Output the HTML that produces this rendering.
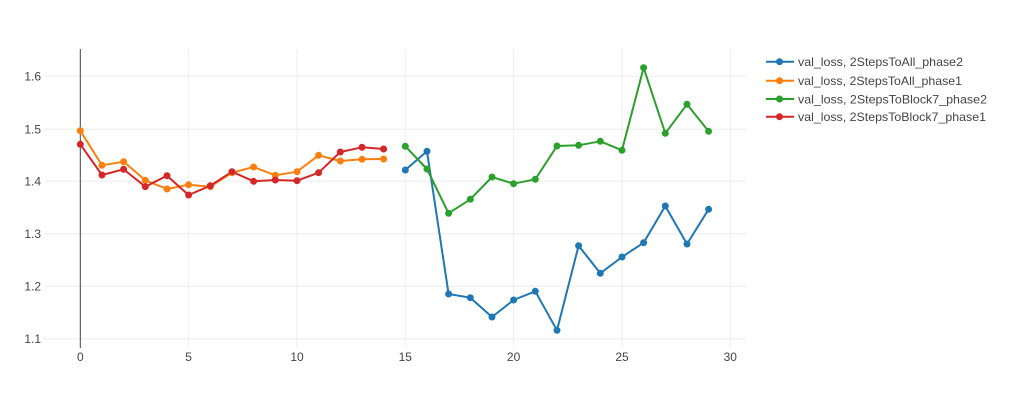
<!DOCTYPE html>
<html><head><meta charset="utf-8"><style>
html,body{margin:0;padding:0;background:#fff;}
svg{display:block;font-family:"Liberation Sans",Arial,sans-serif;}
</style></head><body>
<svg width="1024" height="409" viewBox="0 0 1024 409" xmlns="http://www.w3.org/2000/svg">
<rect width="1024" height="409" fill="#fff"/>
<g stroke="#eeeeee" stroke-width="1">
<line x1="44" x2="747" y1="76.3" y2="76.3"/>
<line x1="44" x2="747" y1="129.3" y2="129.3"/>
<line x1="44" x2="747" y1="181.3" y2="181.3"/>
<line x1="44" x2="747" y1="233.7" y2="233.7"/>
<line x1="44" x2="747" y1="286.3" y2="286.3"/>
<line x1="44" x2="747" y1="338.7" y2="338.7"/>
<line x1="188.6" x2="188.6" y1="49" y2="348"/>
<line x1="297" x2="297" y1="49" y2="348"/>
<line x1="405.3" x2="405.3" y1="49" y2="348"/>
<line x1="513.6" x2="513.6" y1="49" y2="348"/>
<line x1="622" x2="622" y1="49" y2="348"/>
<line x1="730.3" x2="730.3" y1="49" y2="348"/>
</g>
<line x1="80.3" x2="80.3" y1="49" y2="348" stroke="#444" stroke-width="1"/>
<g fill="#444" font-size="12" text-anchor="end">
<text x="41" y="80.5">1.6</text>
<text x="41" y="133.5">1.5</text>
<text x="41" y="185.5">1.4</text>
<text x="41" y="238">1.3</text>
<text x="41" y="290.5">1.2</text>
<text x="41" y="343">1.1</text>
</g>
<g fill="#444" font-size="12" text-anchor="middle">
<text x="80.3" y="361">0</text>
<text x="188.6" y="361">5</text>
<text x="297" y="361">10</text>
<text x="405.3" y="361">15</text>
<text x="513.6" y="361">20</text>
<text x="622" y="361">25</text>
<text x="730.3" y="361">30</text>
</g>
<g fill="none" stroke-width="2" stroke-linejoin="round">
<polyline stroke="#ff7f0e" points="80.3,130.7 102,165.3 123.6,161.7 145.3,180.3 167,189 188.6,184.7 210.3,186.7 232,172.7 253.6,167 275.3,175.3 297,171.7 318.6,155.3 340.3,161 362,159.3 383.6,159"/>
<polyline stroke="#d62728" points="80.3,144.3 102,175 123.6,169.3 145.3,186.7 167,175.7 188.6,195 210.3,185.7 232,171.7 253.6,181.3 275.3,180 297,180.7 318.6,172.7 340.3,152 362,147.3 383.6,149"/>
<polyline stroke="#1f77b4" points="405.3,170 427,151.3 448.6,294 470.3,297.7 492,317 513.6,300 535.3,291.3 557,330.3 578.6,245.7 600.3,273.3 622,257 643.6,242.7 665.3,206 687,244 708.6,209.3"/>
<polyline stroke="#2ca02c" points="405.3,146.3 427,169 448.6,213.3 470.3,199.3 492,177 513.6,183.7 535.3,179.3 557,146 578.6,145.3 600.3,141.3 622,150.3 643.6,67.7 665.3,133.3 687,104.3 708.6,131.3"/>
</g>
<g fill="#ff7f0e">
<circle cx="80.3" cy="130.7" r="3.5"/><circle cx="102" cy="165.3" r="3.5"/><circle cx="123.6" cy="161.7" r="3.5"/><circle cx="145.3" cy="180.3" r="3.5"/><circle cx="167" cy="189" r="3.5"/><circle cx="188.6" cy="184.7" r="3.5"/><circle cx="210.3" cy="186.7" r="3.5"/><circle cx="232" cy="172.7" r="3.5"/><circle cx="253.6" cy="167" r="3.5"/><circle cx="275.3" cy="175.3" r="3.5"/><circle cx="297" cy="171.7" r="3.5"/><circle cx="318.6" cy="155.3" r="3.5"/><circle cx="340.3" cy="161" r="3.5"/><circle cx="362" cy="159.3" r="3.5"/><circle cx="383.6" cy="159" r="3.5"/>
</g>
<g fill="#d62728">
<circle cx="80.3" cy="144.3" r="3.5"/><circle cx="102" cy="175" r="3.5"/><circle cx="123.6" cy="169.3" r="3.5"/><circle cx="145.3" cy="186.7" r="3.5"/><circle cx="167" cy="175.7" r="3.5"/><circle cx="188.6" cy="195" r="3.5"/><circle cx="210.3" cy="185.7" r="3.5"/><circle cx="232" cy="171.7" r="3.5"/><circle cx="253.6" cy="181.3" r="3.5"/><circle cx="275.3" cy="180" r="3.5"/><circle cx="297" cy="180.7" r="3.5"/><circle cx="318.6" cy="172.7" r="3.5"/><circle cx="340.3" cy="152" r="3.5"/><circle cx="362" cy="147.3" r="3.5"/><circle cx="383.6" cy="149" r="3.5"/>
</g>
<g fill="#1f77b4">
<circle cx="405.3" cy="170" r="3.5"/><circle cx="427" cy="151.3" r="3.5"/><circle cx="448.6" cy="294" r="3.5"/><circle cx="470.3" cy="297.7" r="3.5"/><circle cx="492" cy="317" r="3.5"/><circle cx="513.6" cy="300" r="3.5"/><circle cx="535.3" cy="291.3" r="3.5"/><circle cx="557" cy="330.3" r="3.5"/><circle cx="578.6" cy="245.7" r="3.5"/><circle cx="600.3" cy="273.3" r="3.5"/><circle cx="622" cy="257" r="3.5"/><circle cx="643.6" cy="242.7" r="3.5"/><circle cx="665.3" cy="206" r="3.5"/><circle cx="687" cy="244" r="3.5"/><circle cx="708.6" cy="209.3" r="3.5"/>
</g>
<g fill="#2ca02c">
<circle cx="405.3" cy="146.3" r="3.5"/><circle cx="427" cy="169" r="3.5"/><circle cx="448.6" cy="213.3" r="3.5"/><circle cx="470.3" cy="199.3" r="3.5"/><circle cx="492" cy="177" r="3.5"/><circle cx="513.6" cy="183.7" r="3.5"/><circle cx="535.3" cy="179.3" r="3.5"/><circle cx="557" cy="146" r="3.5"/><circle cx="578.6" cy="145.3" r="3.5"/><circle cx="600.3" cy="141.3" r="3.5"/><circle cx="622" cy="150.3" r="3.5"/><circle cx="643.6" cy="67.7" r="3.5"/><circle cx="665.3" cy="133.3" r="3.5"/><circle cx="687" cy="104.3" r="3.5"/><circle cx="708.6" cy="131.3" r="3.5"/>
</g>
<g stroke-width="2">
<line x1="766" x2="794" y1="61.7" y2="61.7" stroke="#1f77b4"/>
<line x1="766" x2="794" y1="80.7" y2="80.7" stroke="#ff7f0e"/>
<line x1="766" x2="794" y1="99" y2="99" stroke="#2ca02c"/>
<line x1="766" x2="794" y1="116.7" y2="116.7" stroke="#d62728"/>
</g>
<circle cx="779.5" cy="61.7" r="3.5" fill="#1f77b4"/>
<circle cx="779.5" cy="80.7" r="3.5" fill="#ff7f0e"/>
<circle cx="779.5" cy="99" r="3.5" fill="#2ca02c"/>
<circle cx="779.5" cy="116.7" r="3.5" fill="#d62728"/>
<g fill="#444" font-size="12">
<text x="798" y="66" textLength="165" lengthAdjust="spacingAndGlyphs">val_loss, 2StepsToAll_phase2</text>
<text x="798" y="85" textLength="164" lengthAdjust="spacingAndGlyphs">val_loss, 2StepsToAll_phase1</text>
<text x="798" y="103.3" textLength="189" lengthAdjust="spacingAndGlyphs">val_loss, 2StepsToBlock7_phase2</text>
<text x="798" y="121" textLength="188" lengthAdjust="spacingAndGlyphs">val_loss, 2StepsToBlock7_phase1</text>
</g>
</svg>
</body></html>
